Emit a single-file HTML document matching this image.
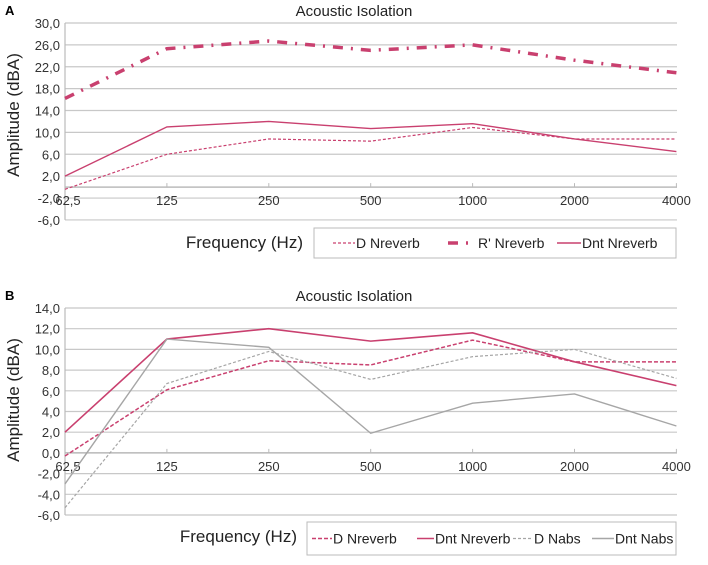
<!DOCTYPE html>
<html><head><meta charset="utf-8"><style>
body{margin:0;background:#fff;width:708px;height:560px;overflow:hidden}
svg{font-family:"Liberation Sans",sans-serif}
</style></head><body>
<svg id="s" width="708" height="560"></svg>
<script>
const categories=["62,5","125","250","500","1000","2000","4000"];
const yTicksA=[30,26,22,18,14,10,6,2,-2,-6];
const yTicksB=[14,12,10,8,6,4,2,0,-2,-4,-6];
const aDNreverb=[-0.4,6,8.8,8.4,10.9,8.8,8.8];
const aRNreverb=[16.2,25.3,26.7,25,26,23.2,20.9];
const aDntNreverb=[2,11,12,10.7,11.6,8.8,6.5];
const bDNreverb=[-0.3,6.1,8.9,8.5,10.9,8.8,8.8];
const bDntNreverb=[2,11,12,10.8,11.6,8.8,6.5];
const bDNabs=[-5.3,6.7,9.8,7.1,9.3,10,7.2];
const bDntNabs=[-3,11,10.2,1.9,4.8,5.7,2.6];
const NS="http://www.w3.org/2000/svg";
const svg=document.getElementById('s');
function mk(t,a,p){const e=document.createElementNS(NS,t);for(const k in a)e.setAttribute(k,a[k]);(p||svg).appendChild(e);return e;}
const PINK="#c9406f",GRAY="#a6a6a6";
function chart(cfg){
  const g=mk('g',{});
  
  
  const x=i=>65+i*101.9;
  const y=v=>cfg.y0+(cfg.ymax-v)*cfg.k;
  const pl=mk('text',{x:5,y:cfg.y0-8,'font-size':13,'font-weight':'bold'},g);pl.textContent=cfg.letter;
  
  const t=mk('text',{x:354,y:cfg.y0-7,'font-size':15,'text-anchor':'middle',fill:'#222'},g);t.textContent='Acoustic Isolation';
  
  cfg.ticks.forEach(v=>{
    const l=mk('line',{x1:65,x2:677,y1:y(v),y2:y(v),stroke:'#c8c8c8','stroke-width':1.2},g);
    
    const tx=mk('text',{x:60,y:y(v)+5,'font-size':13,'text-anchor':'end',fill:'#333'},g);tx.textContent=v.toFixed(1).replace('.',',');
    
  });
  const ax=mk('line',{x1:65,x2:677,y1:y(0),y2:y(0),stroke:'#bbb','stroke-width':1.5},g);
  
  const ay=mk('line',{x1:65,x2:65,y1:y(cfg.ymax),y2:y(cfg.ticks[cfg.ticks.length-1]),stroke:'#bbb','stroke-width':1.2},g);
  
  categories.forEach((c,i)=>{
    const tk=mk('line',{x1:x(i),x2:x(i),y1:y(0)-4,y2:y(0),stroke:'#bbb'},g);
    
    const tx=mk('text',{x:i==0?68:x(i),y:y(0)+18,'font-size':13,'text-anchor':'middle',fill:'#333'},g);tx.textContent=c;
    
  });
  const yl=mk('text',{transform:`translate(19,${cfg.ylc}) rotate(-90)`,'font-size':17,'text-anchor':'middle',fill:'#222'},g);yl.textContent='Amplitude (dBA)';
  
  const xl=mk('text',{x:cfg.xlx,y:cfg.legY+20,'font-size':17,'text-anchor':'end',fill:'#222','xml:space':'preserve'},g);xl.textContent='Frequency  (Hz)';
  
  const lb=mk('rect',{x:cfg.legX,y:cfg.legY,width:676-cfg.legX,height:cfg.legH,fill:'#fff',stroke:'#bbb'},g);
  
  cfg.series.forEach((s,si)=>{
    const p=mk('polyline',{points:s.data.map((v,i)=>x(i)+','+y(v)).join(' '),fill:'none',stroke:s.c,'stroke-width':s.w,'stroke-dasharray':s.d||'none'},g);
    
    const lx=s.lx,ly=cfg.legY+cfg.legH/2;
    const ll=mk('line',{x1:lx,x2:lx+(s.ll||22),y1:ly,y2:ly,stroke:s.c,'stroke-width':s.w,'stroke-dasharray':s.d||'none'},g);
    
    const lt=mk('text',{x:lx+(s.ll||22)+(s.gap||1),y:ly+5,'font-size':14,fill:'#222'},g);lt.textContent=s.n;
    
  });
}
chart({name:'chart-a',letter:'A',y0:23,ymax:30,k:5.47,ticks:yTicksA,ylc:115,xlx:303,legX:314,legY:228,legH:30,
 series:[{n:'D Nreverb',data:aDNreverb,c:PINK,w:1.2,d:'3 2',lx:333},
 {n:"R' Nreverb",data:aRNreverb,c:PINK,w:3.5,d:'10 8 2 8',lx:448,ll:22,gap:8},
 {n:'Dnt Nreverb',data:aDntNreverb,c:PINK,w:1.4,lx:557,ll:24}]});
chart({name:'chart-b',letter:'B',y0:308,ymax:14,k:10.35,ticks:yTicksB,ylc:400,xlx:297,legX:307,legY:522,legH:33,
 series:[{n:'D Nreverb',data:bDNreverb,c:PINK,w:1.5,d:'4 2',lx:312,ll:20},
 {n:'Dnt Nreverb',data:bDntNreverb,c:PINK,w:1.6,lx:417,ll:17},
 {n:'D Nabs',data:bDNabs,c:GRAY,w:1.2,d:'3 2',lx:513,ll:20},
 {n:'Dnt Nabs',data:bDntNabs,c:GRAY,w:1.4,lx:592,ll:22}]});
</script>
</body></html>
